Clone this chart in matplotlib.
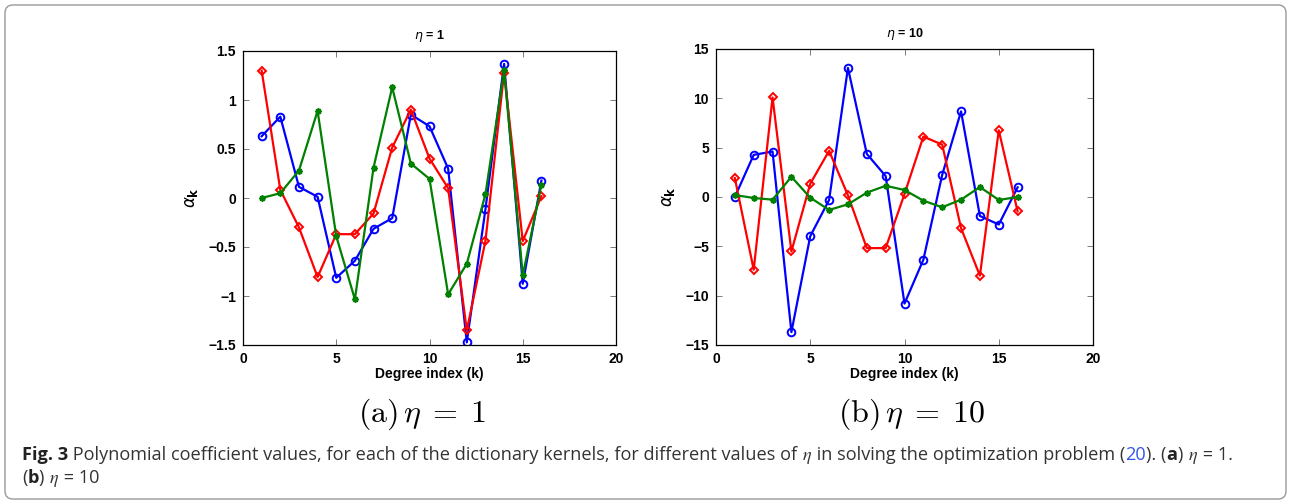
import matplotlib
matplotlib.use("Agg")
import matplotlib.pyplot as plt
from matplotlib.patches import FancyBboxPatch

plt.rcParams["font.family"] = ["Liberation Sans", "DejaVu Sans"]
plt.rcParams["axes.labelweight"] = "bold"
plt.rcParams["axes.titleweight"] = "bold"

degree = list(range(1, 17))

# eta = 1
blue_eta1 = [0.63, 0.83, 0.114, 0.012, -0.814, -0.64, -0.314, -0.206,
             0.851, 0.732, 0.30, -1.473, -0.114, 1.368, -0.875, 0.178]
red_eta1 = [1.30, 0.083, -0.30, -0.807, -0.369, -0.369, -0.158, 0.515,
            0.902, 0.403, 0.10, -1.35, -0.437, 1.28, -0.44, 0.019]
green_eta1 = [0.0, 0.049, 0.28, 0.889, -0.39, -1.034, 0.311, 1.13,
              0.352, 0.195, -0.983, -0.671, 0.039, 1.303, -0.79, 0.134]

# eta = 10
blue_eta10 = [0.0, 4.27, 4.61, -13.69, -3.97, -0.30, 13.08, 4.37,
              2.12, -10.80, -6.36, 2.25, 8.68, -1.92, -2.79, 0.98]
red_eta10 = [1.92, -7.37, 10.09, -5.52, 1.35, 4.68, 0.17, -5.18,
             -5.18, 0.30, 6.12, 5.31, -3.16, -7.97, 6.76, -1.45]
green_eta10 = [0.20, -0.10, -0.27, 2.05, -0.07, -1.31, -0.74, 0.44,
               1.14, 0.71, -0.37, -1.04, -0.27, 1.01, -0.30, 0.0]

x_ticks = [0, 5, 10, 15, 20]
y_ticks_eta1 = [-1.5, -1, -0.5, 0, 0.5, 1, 1.5]
y_ticks_eta10 = [-15, -10, -5, 0, 5, 10, 15]

caption_line1 = [
    ("Fig. 3", "bold", "#222222"),
    (" Polynomial coefficient values, for each of the dictionary kernels, for different values of ", "normal", "#333333"),
    (r"$\eta$", "normal", "#333333"),
    (" in solving the optimization problem (", "normal", "#333333"),
    ("20", "normal", "#3355ee"),
    ("). (", "normal", "#333333"),
    ("a", "bold", "#222222"),
    (") ", "normal", "#333333"),
    (r"$\eta$", "normal", "#333333"),
    (" = 1.", "normal", "#333333"),
]
caption_line2 = [
    ("(", "normal", "#333333"),
    ("b", "bold", "#222222"),
    (") ", "normal", "#333333"),
    (r"$\eta$", "normal", "#333333"),
    (" = 10", "normal", "#333333"),
]

GREEN = "#008000"


def fmt(v):
    return f"{v:g}".replace("-", "\u2212")


def draw_panel(ax, blue, red, green, yticks, title):
    ax.plot(degree, blue, color="b", lw=1.6, marker="o", ms=5.5,
            mfc="none", mew=1.4)
    ax.plot(degree, red, color="r", lw=1.6, marker="D", ms=4.5,
            mfc="none", mew=1.4)
    ax.plot(degree, green, color=GREEN, lw=1.6, marker=(8, 2, 0), ms=4.5,
            mew=1.2)
    ax.set_xlim(0, 20)
    ax.set_ylim(yticks[0], yticks[-1])
    ax.set_xticks(x_ticks, [fmt(v) for v in x_ticks], fontweight="bold")
    ax.set_yticks(yticks, [fmt(v) for v in yticks], fontweight="bold")
    ax.tick_params(direction="in", top=True, right=True, length=4,
                   width=0.6, color="#666666", labelsize=10, pad=5)
    for s in ax.spines.values():
        s.set_linewidth(0.9)
    ax.set_xlabel("Degree index (k)", fontsize=10, labelpad=1)
    ax.set_ylabel(r"$\alpha_{\mathbf{k}}$", fontsize=12, labelpad=6,
                  math_fontfamily="dejavusans", fontweight="normal")
    ax.set_title(title, fontsize=9, pad=9)


fig = plt.figure(figsize=(12.91, 5.04), dpi=100)

ax1 = fig.add_axes([243 / 1291, 159 / 504, 373 / 1291, 294 / 504])
draw_panel(ax1, blue_eta1, red_eta1, green_eta1, y_ticks_eta1, r"$\eta$ = 1")

ax2 = fig.add_axes([716 / 1291, 159 / 504, 377 / 1291, 296 / 504])
draw_panel(ax2, blue_eta10, red_eta10, green_eta10, y_ticks_eta10, r"$\eta$ = 10")

# outer frame
frame = FancyBboxPatch((5, 5), 1281, 494, boxstyle="round,pad=0,rounding_size=8",
                       transform=None, fc="none", ec="#999999", lw=1.0)
fig.patches.append(frame)

# sub labels
fig.text(422, 82, r"$\mathrm{(a)}\,\eta\;=\;1$", transform=None, fontsize=23,
         ha="center", va="baseline", math_fontfamily="cm")
fig.text(912, 82, r"$\mathrm{(b)}\,\eta\;=\;10$", transform=None, fontsize=23,
         ha="center", va="baseline", math_fontfamily="cm")

# caption
cap = fig.add_axes([0, 0, 1, 1])
cap.axis("off")


def write_line(pieces, x0, y0, size):
    prev = None
    for txt, weight, color in pieces:
        kw = dict(fontsize=size, weight=weight, color=color, va="baseline",
                  ha="left", family=["Open Sans", "DejaVu Sans"],
                  math_fontfamily="stix")
        if prev is None:
            prev = cap.annotate(txt, xy=(x0, y0), xycoords="figure pixels", **kw)
        else:
            prev = cap.annotate(txt, xy=(1, y0), xycoords=(prev, "figure pixels"), **kw)


write_line(caption_line1, 22, 44, 13.1)
write_line(caption_line2, 22, 21, 13.1)

fig.savefig("out.png", dpi=100)
